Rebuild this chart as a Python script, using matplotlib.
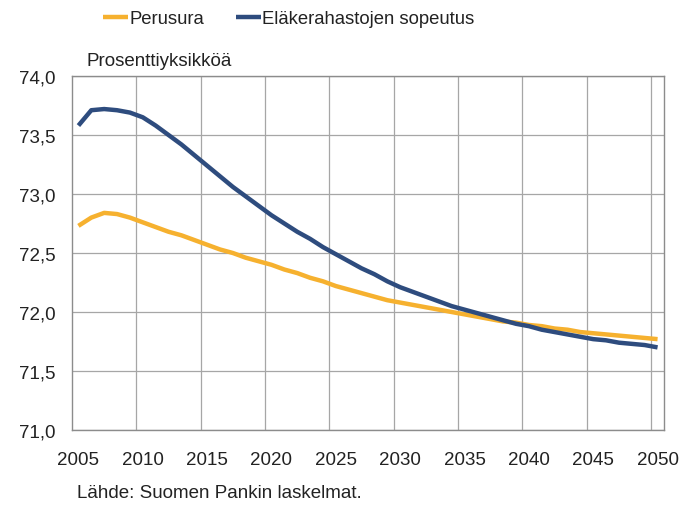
import numpy as np
import matplotlib
matplotlib.use("Agg")
import matplotlib.pyplot as plt

plt.rcParams['font.family'] = ['Liberation Sans', 'DejaVu Sans']

years = list(range(2005, 2051))

perusura = [72.73, 72.80, 72.84, 72.83, 72.80, 72.76, 72.72, 72.68, 72.65, 72.61,
            72.57, 72.53, 72.50, 72.46, 72.43, 72.40, 72.36, 72.33, 72.29, 72.26,
            72.22, 72.19, 72.16, 72.13, 72.10, 72.08, 72.06, 72.04, 72.02, 72.00,
            71.98, 71.96, 71.94, 71.92, 71.91, 71.89, 71.88, 71.86, 71.85, 71.83,
            71.82, 71.81, 71.80, 71.79, 71.78, 71.77]

sopeutus = [73.58, 73.71, 73.72, 73.71, 73.69, 73.65, 73.58, 73.50, 73.42, 73.33,
            73.24, 73.15, 73.06, 72.98, 72.90, 72.82, 72.75, 72.68, 72.62, 72.55,
            72.49, 72.43, 72.37, 72.32, 72.26, 72.21, 72.17, 72.13, 72.09, 72.05,
            72.02, 71.99, 71.96, 71.93, 71.90, 71.88, 71.85, 71.83, 71.81, 71.79,
            71.77, 71.76, 71.74, 71.73, 71.72, 71.70]

xtick_years = list(range(2005, 2051, 5))
yticks = [71.0, 71.5, 72.0, 72.5, 73.0, 73.5, 74.0]

orange = '#F6B12F'
blue = '#2E4C7E'
grid_col = '#A6A6A6'
text_col = '#222222'

fig = plt.figure(figsize=(6.83, 5.06), dpi=100)
ax = fig.add_axes([72 / 683, 75 / 506, 592 / 683, 354 / 506])

ax.plot(years, perusura, color=orange, lw=3.2, solid_capstyle='butt', label='Perusura')
ax.plot(years, sopeutus, color=blue, lw=3.2, solid_capstyle='butt', label='Eläkerahastojen sopeutus')

ax.set_xlim(2004.5, 2050.5)
ax.set_ylim(71.0, 74.0)

ax.set_xticks(xtick_years)
ax.set_xticklabels([str(y) for y in xtick_years])
ax.set_xticks([y - 0.5 for y in xtick_years[1:]], minor=True)
ax.set_yticks(yticks)
ax.set_yticklabels([f'{v:.1f}'.replace('.', ',') for v in yticks])

ax.grid(which='minor', axis='x', color=grid_col, lw=0.9)
ax.grid(which='major', axis='y', color=grid_col, lw=0.9)
ax.set_axisbelow(True)

ax.tick_params(axis='both', which='both', length=0, labelsize=13.5, colors=text_col)
ax.tick_params(axis='x', pad=15)
ax.tick_params(axis='y', pad=12)

for side in ['left', 'bottom', 'right', 'top']:
    ax.spines[side].set_color('#8C8C8C')
    ax.spines[side].set_linewidth(1.0)

fig.text(87 / 683, 1 - 62 / 506, 'Prosenttiyksikköä', fontsize=13.5, color=text_col,
         ha='left', va='center')
fig.text(77 / 683, 1 - 494 / 506, 'Lähde: Suomen Pankin laskelmat.', fontsize=13.5,
         color=text_col, ha='left', va='center')

fig.legend(loc='center', bbox_to_anchor=(289 / 683, 1 - 20 / 506), ncol=2, frameon=False,
           fontsize=13.3, handlelength=1.35, handletextpad=0.05, columnspacing=1.75,
           labelcolor=text_col)

fig.savefig('out.png', dpi=100)
